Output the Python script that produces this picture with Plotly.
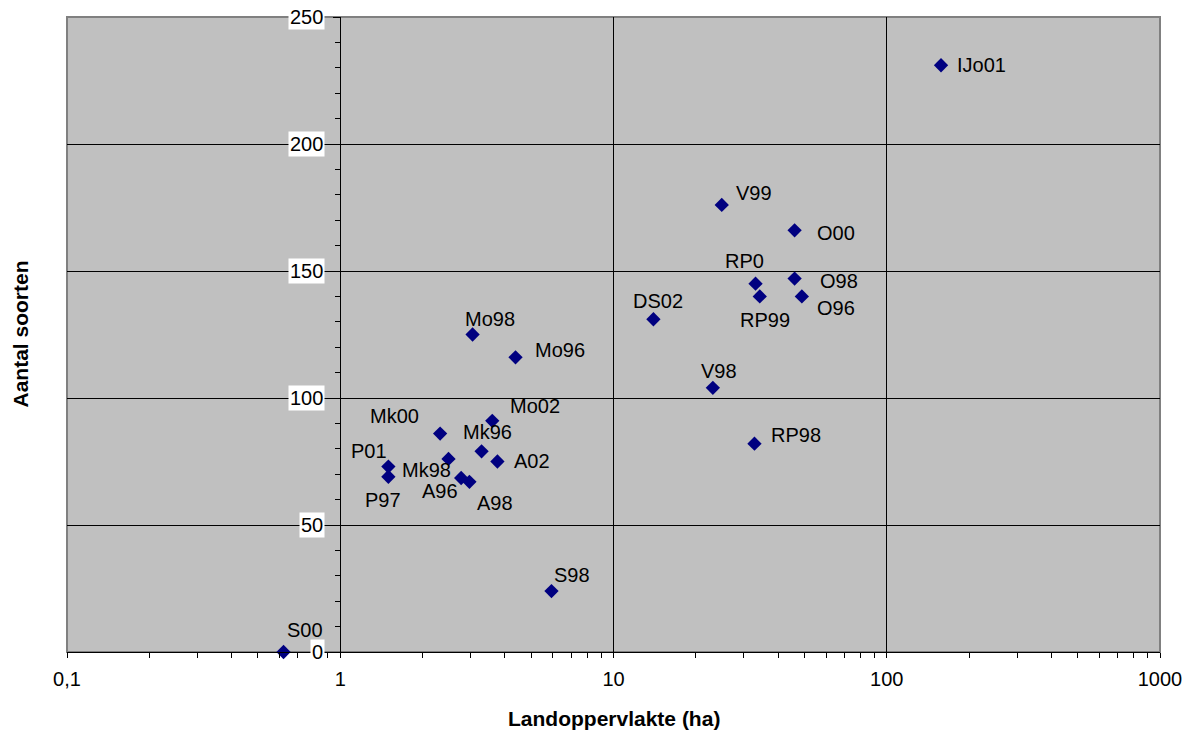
import math
import plotly.graph_objects as go

# ---- data ----
names = ["S00", "IJo01", "V99", "O00", "RP0", "O98", "RP99", "O96", "DS02",
         "Mo98", "Mo96", "V98", "Mo02", "Mk00", "Mk96", "A02", "Mk98",
         "P01", "P97", "A96", "A98", "RP98", "S98"]
area_ha = [0.62, 158, 24.9, 46.0, 33.1, 46.0, 34.3, 48.9, 14.0,
           3.05, 4.38, 23.1, 3.6, 2.32, 3.29, 3.76, 2.49,
           1.5, 1.5, 2.77, 2.97, 32.8, 5.93]
species = [0, 231, 176, 166, 145, 147, 140, 140, 131,
           125, 116, 104, 91, 86, 79, 75, 76,
           73, 69, 68.5, 67, 82, 24]

x_tickvals = [0.1, 1, 10, 100, 1000]
x_ticktext = ["0,1", "1", "10", "100", "1000"]
y_tickvals = [0, 50, 100, 150, 200, 250]
y_ticktext = ["0", "50", "100", "150", "200", "250"]

# label offsets in pixels (dx right, dy down) relative to the marker
label_offsets = {
    "S00": (21, -22), "IJo01": (40, 0), "V99": (32, -12), "O00": (41, 3),
    "RP0": (-11, -23), "O98": (44, 2), "RP99": (5, 24), "O96": (34, 12),
    "DS02": (5, -18), "Mo98": (17, -16), "Mo96": (44, -7), "V98": (6, -17),
    "Mo02": (43, -15), "Mk00": (-46, -18), "Mk96": (6, -19), "A02": (35, -1),
    "Mk98": (-22, 11), "P01": (-19, -16), "P97": (-5, 23), "A96": (-21, 13),
    "A98": (26, 21), "RP98": (42, -9), "S98": (21, -16),
}

FONT = "Arial, Liberation Sans, sans-serif"

fig = go.Figure()
fig.add_trace(go.Scatter(
    x=area_ha, y=species, mode="markers",
    marker=dict(symbol="diamond", size=11, color="#000080"),
    cliponaxis=False, hoverinfo="x+y",
))

annotations = []
for n, xv, yv in zip(names, area_ha, species):
    dx, dy = label_offsets[n]
    annotations.append(dict(
        x=math.log10(xv), y=yv, xref="x", yref="y", text=n, showarrow=False,
        xshift=dx, yshift=-dy, font=dict(family=FONT, size=20, color="black"),
        xanchor="center", yanchor="middle"))

# y tick labels with white background, left of the y axis placed at x=1
for v, t in zip(y_tickvals, y_ticktext):
    annotations.append(dict(
        x=0, y=v, xref="x", yref="y", text=t, showarrow=False,
        xanchor="right", yanchor="middle", xshift=-15,
        bgcolor="white", borderpad=1,
        font=dict(family=FONT, size=20, color="black")))

annotations.append(dict(
    x=0.5, y=-0.1055, xref="paper", yref="paper", text="<b>Landoppervlakte (ha)</b>",
    showarrow=False, xanchor="center", yanchor="middle",
    font=dict(family=FONT, size=21, color="black")))
annotations.append(dict(
    x=-0.043, y=0.5, xref="paper", yref="paper", text="<b>Aantal soorten</b>",
    showarrow=False, xanchor="center", yanchor="middle", textangle=-90,
    font=dict(family=FONT, size=21, color="black")))

minor_x = [m * 10 ** e for e in range(-1, 3) for m in range(2, 10)]

fig.update_layout(
    width=1186, height=725,
    margin=dict(l=59, r=34, t=9, b=81),
    paper_bgcolor="white", plot_bgcolor="#C0C0C0",
    showlegend=False,
    annotations=annotations,
    xaxis=dict(
        type="log", range=[-1, 3],
        tickmode="array", tickvals=x_tickvals, ticktext=x_ticktext,
        ticks="outside", ticklen=5, tickcolor="black",
        ticklabelstandoff=4,
        showgrid=True, gridcolor="black", gridwidth=1,
        showline=True, linecolor="black", linewidth=1,
        zeroline=False,
        tickfont=dict(family=FONT, size=20, color="black"),
        minor=dict(tickmode="array", tickvals=minor_x, ticks="outside",
                   ticklen=5, tickcolor="black", showgrid=False),
    ),
    yaxis=dict(
        range=[0, 250], anchor="free", position=0.25,
        tickmode="array", tickvals=y_tickvals,
        showticklabels=False,
        ticks="outside", ticklen=7, tickcolor="black",
        showgrid=True, gridcolor="black", gridwidth=1,
        showline=True, linecolor="black", linewidth=1,
        zeroline=False,
        minor=dict(dtick=10, ticks="outside", ticklen=5, tickcolor="black",
                   showgrid=False),
    ),
    shapes=[dict(type="rect", xref="paper", yref="paper", x0=0, x1=1, y0=0, y1=1,
                 line=dict(color="#808080", width=2), layer="between")],
)

fig.write_html("out.html")
